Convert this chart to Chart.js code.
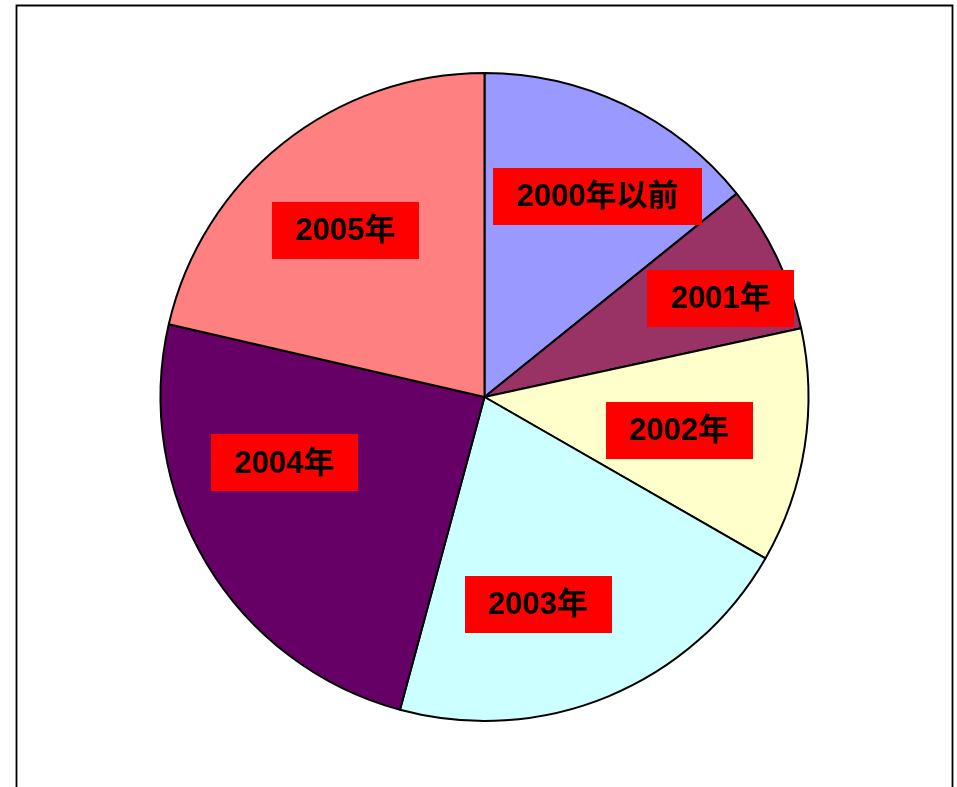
<!DOCTYPE html>
<html>
<head>
<meta charset="utf-8">
<script src="https://cdn.jsdelivr.net/npm/chart.js@4/dist/chart.umd.min.js"></script>
<style>
  html, body { margin: 0; padding: 0; background: #ffffff; }
  #wrap { width: 957px; height: 787px; }
</style>
</head>
<body>
<div id="wrap"><canvas id="c" width="957" height="787"></canvas></div>
<script>
// ---- data ----
const categories = ['2000年以前', '2001年', '2002年', '2003年', '2004年', '2005年'];
const shares = [14.2, 7.4, 11.7, 20.9, 24.4, 21.4];
const sliceColors = ['#9999FF', '#993366', '#FFFFCC', '#CCFFFF', '#660066', '#FF8080'];

// label placement (relative to each slice): angle shift in degrees, radius fraction
const labelAngleShift = [3.9, 3.0, 1.0, 8.0, 12.7, -1.3];
const labelRadiusFrac = [0.71, 0.79, 0.61, 0.66, 0.65, 0.67];

const frame = {
  id: 'frame',
  beforeDraw(chart) {
    const ctx = chart.ctx;
    ctx.save();
    ctx.fillStyle = '#ffffff';
    ctx.fillRect(0, 0, chart.width, chart.height);
    ctx.strokeStyle = '#000000';
    ctx.lineWidth = 1.8;
    ctx.beginPath();
    ctx.moveTo(16.5, chart.height + 5);
    ctx.lineTo(16.5, 5.5);
    ctx.lineTo(952.5, 5.5);
    ctx.lineTo(952.5, chart.height + 5);
    ctx.stroke();
    ctx.restore();
  }
};

const boxLabels = {
  id: 'boxLabels',
  afterDatasetsDraw(chart) {
    const ctx = chart.ctx;
    const meta = chart.getDatasetMeta(0);
    ctx.save();
    ctx.font = 'bold 31px "Liberation Sans", Arial, "Noto Sans CJK SC", sans-serif';
    ctx.textAlign = 'center';
    ctx.textBaseline = 'middle';
    meta.data.forEach((arc, i) => {
      const p = arc.getProps(['x', 'y', 'startAngle', 'endAngle', 'outerRadius'], true);
      const mid = (p.startAngle + p.endAngle) / 2 + labelAngleShift[i] * Math.PI / 180;
      const r = p.outerRadius * labelRadiusFrac[i];
      const cx = p.x + Math.cos(mid) * r;
      const cy = p.y + Math.sin(mid) * r;
      const text = chart.data.labels[i];
      const w = ctx.measureText(text).width + 47;
      const h = 57;
      ctx.fillStyle = '#FF0000';
      ctx.fillRect(Math.round(cx - w / 2), Math.round(cy - h / 2), Math.round(w), h);
      ctx.fillStyle = '#000000';
      ctx.fillText(text, cx, cy + 1);
    });
    ctx.restore();
  }
};

new Chart(document.getElementById('c'), {
  type: 'pie',
  data: {
    labels: categories,
    datasets: [{
      data: shares,
      backgroundColor: sliceColors,
      borderColor: '#000000',
      borderWidth: 2,
      borderAlign: 'center'
    }]
  },
  options: {
    responsive: false,
    animation: false,
    devicePixelRatio: 1,
    layout: { padding: { left: 159, right: 147, top: 72, bottom: 65 } },
    plugins: {
      legend: { display: false },
      tooltip: { enabled: false },
      title: { display: false }
    }
  },
  plugins: [frame, boxLabels]
});
</script>
</body>
</html>
